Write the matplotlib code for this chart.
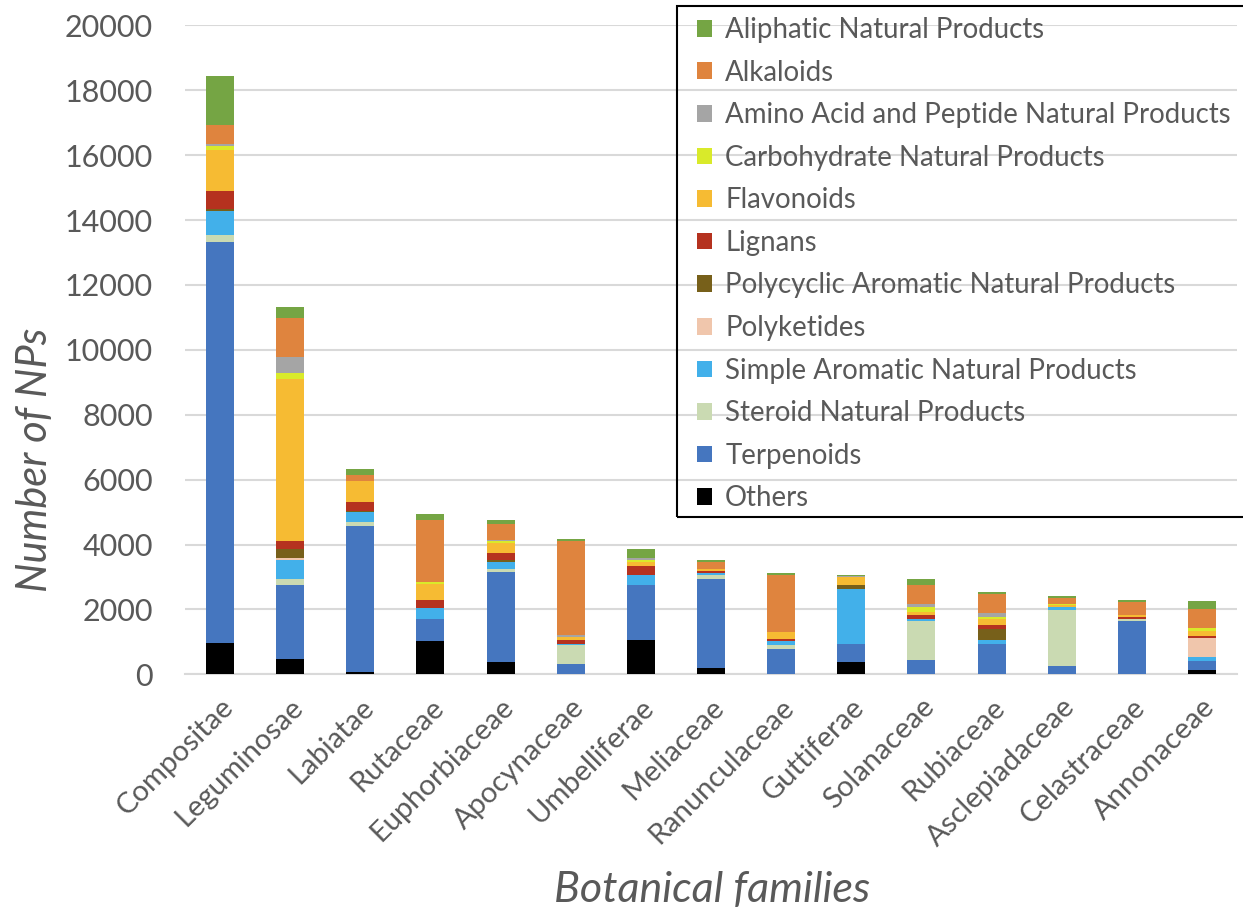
import matplotlib
matplotlib.use("Agg")
import matplotlib.pyplot as plt
from matplotlib.patches import Rectangle
import numpy as np

families = ["Compositae", "Leguminosae", "Labiatae", "Rutaceae", "Euphorbiaceae",
            "Apocynaceae", "Umbelliferae", "Meliaceae", "Ranunculaceae", "Guttiferae",
            "Solanaceae", "Rubiaceae", "Asclepiadaceae", "Celastraceae", "Annonaceae"]

others       = [955, 481, 80, 1026, 370, 0, 1066, 194, 0, 370, 0, 0, 0, 0, 142]
terpenoids   = [12367, 2280, 4490, 678, 2792, 317, 1686, 2734, 780, 573, 431, 943, 256, 1643, 277]
steroid      = [215, 176, 114, 0, 74, 590, 0, 132, 114, 0, 1221, 0, 1735, 61, 0]
simple_arom  = [740, 596, 310, 348, 225, 20, 299, 70, 123, 1686, 61, 123, 74, 0, 124]
polyketides  = [0, 60, 0, 0, 0, 0, 0, 0, 0, 0, 0, 0, 0, 0, 576]
polycyclic   = [50, 278, 40, 0, 52, 0, 0, 0, 0, 123, 0, 339, 0, 0, 0]
lignans      = [555, 237, 287, 238, 234, 123, 297, 52, 70, 0, 114, 124, 0, 71, 71]
flavonoids   = [1280, 4990, 638, 490, 310, 114, 113, 53, 216, 237, 102, 175, 61, 52, 154]
carbohydrate = [120, 185, 0, 50, 55, 0, 61, 0, 0, 0, 136, 62, 50, 0, 74]
amino        = [50, 485, 0, 0, 40, 50, 60, 0, 0, 30, 111, 114, 0, 0, 0]
alkaloids    = [585, 1220, 176, 1923, 484, 2909, 0, 225, 1756, 0, 585, 595, 185, 410, 585]
aliphatic    = [1510, 340, 185, 172, 114, 60, 287, 52, 62, 40, 176, 61, 52, 53, 247]

# bottom -> top stacking order
series = [
    ("Others", others, "#000000"),
    ("Terpenoids", terpenoids, "#4576BF"),
    ("Steroid Natural Products", steroid, "#CADAB2"),
    ("Simple Aromatic Natural Products", simple_arom, "#42B0EA"),
    ("Polyketides", polyketides, "#F0C6AC"),
    ("Polycyclic Aromatic Natural Products", polycyclic, "#77601A"),
    ("Lignans", lignans, "#B5321F"),
    ("Flavonoids", flavonoids, "#F6BB33"),
    ("Carbohydrate Natural Products", carbohydrate, "#D9EA2A"),
    ("Amino Acid and Peptide Natural Products", amino, "#A5A5A5"),
    ("Alkaloids", alkaloids, "#DF843E"),
    ("Aliphatic Natural Products", aliphatic, "#75A544"),
]

plt.rcParams['font.family'] = ['Lato', 'DejaVu Sans']
txt = "#595959"

W, H = 1243, 913
fig = plt.figure(figsize=(W / 100, H / 100), dpi=100)
ax = fig.add_axes([185 / W, 1 - 674.3 / H, (1237 - 185) / W, (674.3 - 25.3) / H])

x = np.arange(len(families))
bottom = np.zeros(len(families))
handles = []
for name, vals, col in series:
    v = np.array(vals, dtype=float)
    b = ax.bar(x, v, width=0.4, bottom=bottom, color=col, edgecolor="none", label=name, zorder=3)
    handles.append(b)
    bottom += v

ax.set_xlim(-0.5, len(families) - 0.5)
ax.set_ylim(0, 20000)
ax.set_yticks(np.arange(0, 20001, 2000))
ax.grid(axis="y", color="#D9D9D9", linewidth=1.5, zorder=0)
for s in ["top", "right", "left"]:
    ax.spines[s].set_visible(False)
ax.spines["bottom"].set_color("#D9D9D9")
ax.spines["bottom"].set_linewidth(1.5)
ax.tick_params(axis="both", length=0, labelsize=22, colors=txt)
ax.tick_params(axis="y", pad=23)
ax.set_xticks(x)
ax.set_xticklabels(families, rotation=45, ha="right", va="top", rotation_mode="anchor")
ax.tick_params(axis="x", pad=14, labelsize=21)

fig.text(35 / W, 1 - 460 / H, "Number of NPs", rotation=90, ha="center", va="center",
         fontsize=30, style="italic", color=txt)
fig.text(712 / W, 1 - 890 / H, "Botanical families", ha="center", va="center",
         fontsize=31, style="italic", color=txt)

leg = fig.legend(handles[::-1], [s[0] for s in series][::-1], loc="upper left",
                 bbox_to_anchor=(697 / W, 1 - 17 / H), frameon=False, fontsize=19.9,
                 labelcolor=txt, borderpad=0, borderaxespad=0, handlelength=0.55,
                 handleheight=0.55, handletextpad=0.47, labelspacing=0.60)
fig.patches.append(Rectangle((677 / W, 1 - 517 / H), (1260 - 677) / W, (517 - 6) / H,
                             transform=fig.transFigure, fill=False, edgecolor="black",
                             linewidth=1.5, clip_on=False, zorder=5))

fig.savefig("out.png", dpi=100)
